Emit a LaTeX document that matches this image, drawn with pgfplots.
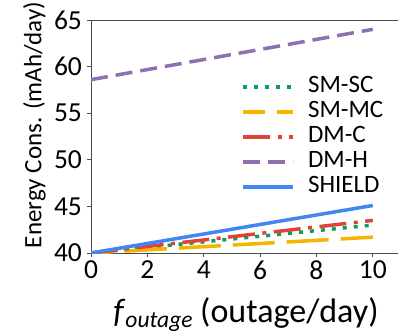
\documentclass[border=0pt]{standalone}
\usepackage{pgfplots}
\pgfplotsset{compat=1.18}
\usepackage{fontspec}
\setmainfont{Carlito}
\definecolor{cgreen}{HTML}{0F9D58}
\definecolor{cyellow}{HTML}{F4B400}
\definecolor{cred}{HTML}{DB4437}
\definecolor{cpurple}{HTML}{8E6FB0}
\definecolor{cblue}{HTML}{4285F4}
\begin{document}
\begin{tikzpicture}
\useasboundingbox (-91pt,-82pt) rectangle (307pt,253pt);
\begin{axis}[
  scale only axis, width=310pt, height=233pt,
  at={(0,0)}, anchor=south west,
  xmin=0, xmax=11, ymin=40, ymax=65,
  xtick={0,2,4,6,8,10}, ytick={40,45,50,55,60,65},
  tick align=outside, major tick length=4pt,
  tick style={black!70, line width=0.8pt},
  axis line style={black!70, line width=0.8pt},
  xtick pos=bottom, ytick pos=left,
  /pgf/number format/assume math mode=true,
  tick label style={font=\fontsize{27.5}{28}\selectfont},
  xticklabel style={yshift=1pt},
  xlabel={\textit{f}{\fontsize{23.5}{24}\selectfont\raisebox{-0.2em}{\textit{outage}}} (outage/day)},
  xlabel style={font=\fontsize{34}{35}\selectfont, yshift=-9pt},
  ylabel={Energy Cons. (mAh/day)},
  ylabel style={font=\fontsize{25}{26}\selectfont, at={(ticklabel cs:0.55)}},
  legend style={draw=none, fill=none, at={(0.48,0.76)}, anchor=north west,
    inner sep=0pt, row sep=6pt,
    nodes={inner sep=1pt, text height=14pt, text depth=3pt},
    font=\fontsize{25}{25}\selectfont},
  legend cell align=left,
  legend image code/.code={\draw[#1] (0pt,0pt) -- (50pt,0pt);},
  line width=3.5pt,
]
\addplot[cgreen, line cap=butt, dash pattern=on 4pt off 7pt] coordinates {(0,40) (2,40.6) (4,41.2) (6,41.8) (8,42.4) (10,43.0)};
\addlegendentry{\hspace*{12pt}SM-SC}
\addplot[cyellow, dash pattern=on 42pt off 12pt, dash phase=20pt] coordinates {(0,40) (2,40.34) (4,40.68) (6,41.02) (8,41.36) (10,41.7)};
\addlegendentry{\hspace*{12pt}SM-MC}
\addplot[cred, dash pattern=on 27pt off 7.5pt on 4pt off 7.5pt] coordinates {(0,40) (2,40.7) (4,41.4) (6,42.1) (8,42.8) (10,43.5)};
\addlegendentry{\hspace*{12pt}DM-C}
\addplot[cpurple, dash pattern=on 17pt off 8pt] coordinates {(0,58.6) (2,59.68) (4,60.76) (6,61.84) (8,62.92) (10,64.0)};
\addlegendentry{\hspace*{12pt}DM-H}
\addplot[cblue] coordinates {(0,40) (2,41.02) (4,42.04) (6,43.06) (8,44.08) (10,45.1)};
\addlegendentry{\hspace*{12pt}SHIELD}
\end{axis}
\end{tikzpicture}
\end{document}
